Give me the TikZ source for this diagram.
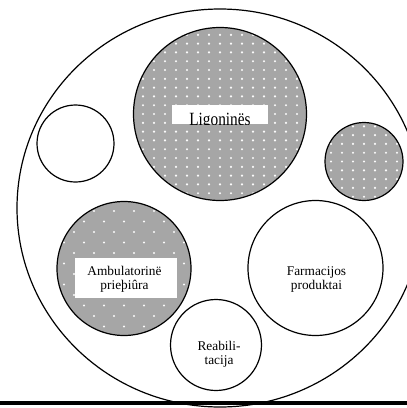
\documentclass[tikz,border=0pt]{standalone}
\usepackage{fontspec}
\setmainfont{Liberation Serif}
\usetikzlibrary{calc,shapes.geometric}
\definecolor{dotgray}{RGB}{166,166,166}
\tikzset{
  ring/.style={circle, draw=black, line width=0.9pt, inner sep=0pt},
  gridfill/.style={fill=dotgray, path picture={
    \foreach \i in {-9,...,9} \foreach \j in {-12,...,12}
      {\fill[white!95!dotgray] ($(path picture bounding box.center)+(\i*11,\j*8.8)$) circle (1.2);}}},
  stagfill/.style={fill=dotgray, path picture={
    \foreach \j in {-7,...,7} \foreach \i in {-4,...,4} {
      \pgfmathsetmacro\xo{\i*20+10*mod(abs(\j),2)}
      \fill[white!95!dotgray] ($(path picture bounding box.center)+(\xo,\j*10.5-5)$) circle (1.2);}}},
  txt/.style={font=\fontsize{10}{10.5}\selectfont, align=center, inner sep=0pt},
}
\begin{document}
\begin{tikzpicture}[x=0.75pt, y=-0.75pt]
\useasboundingbox (0,0) rectangle (407,408);
\clip (0,0) rectangle (407,408);
\fill[white] (0,0) rectangle (407,408);

\node[ellipse, draw=black, line width=0.9pt, inner sep=0pt,
      minimum width=406*0.75pt, minimum height=398*0.75pt] (outer) at (220,208) {};

\node[ring, gridfill, minimum size=173*0.75pt] (lig) at (220,114) {};
\node[ring, minimum size=77*0.75pt] (empty) at (75.5,143.5) {};
\node[ring, gridfill, minimum size=78*0.75pt] (sdot) at (364,161.5) {};
\node[ring, stagfill, minimum size=134*0.75pt] (amb) at (124,268.5) {};
\node[ring, minimum size=135*0.75pt] (farm) at (315.5,268) {};
\node[ring, minimum size=91*0.75pt] (reab) at (216,345) {};

\node[fill=white, inner sep=0pt, minimum width=96.6*0.75pt, minimum height=19.3*0.75pt,
      path picture={\node[anchor=base, inner sep=0pt, xscale=0.82, font=\fontsize{14}{15}\selectfont]
        at ($(path picture bounding box.center)+(0,10.3)$) {Ligoninës};}] (ligbox) at (220,114.7) {};

\node[fill=white, inner sep=0pt, minimum width=102*0.75pt, minimum height=40*0.75pt] (ambbox) at (126,278) {};
\node[txt] (ambtxt) at (124.5,279) {Ambulatorinë\\prieþiûra};

\node[txt] (farmtxt) at (316.5,279.5) {Farmacijos\\produktai};
\node[txt] (reabtxt) at (219,354.5) {Reabili-\\tacija};

\coordinate (rl) at (0,402.5);
\coordinate (rr) at (407,402.5);
\draw[line width=3pt] (rl) -- (rr);
\end{tikzpicture}
\end{document}
